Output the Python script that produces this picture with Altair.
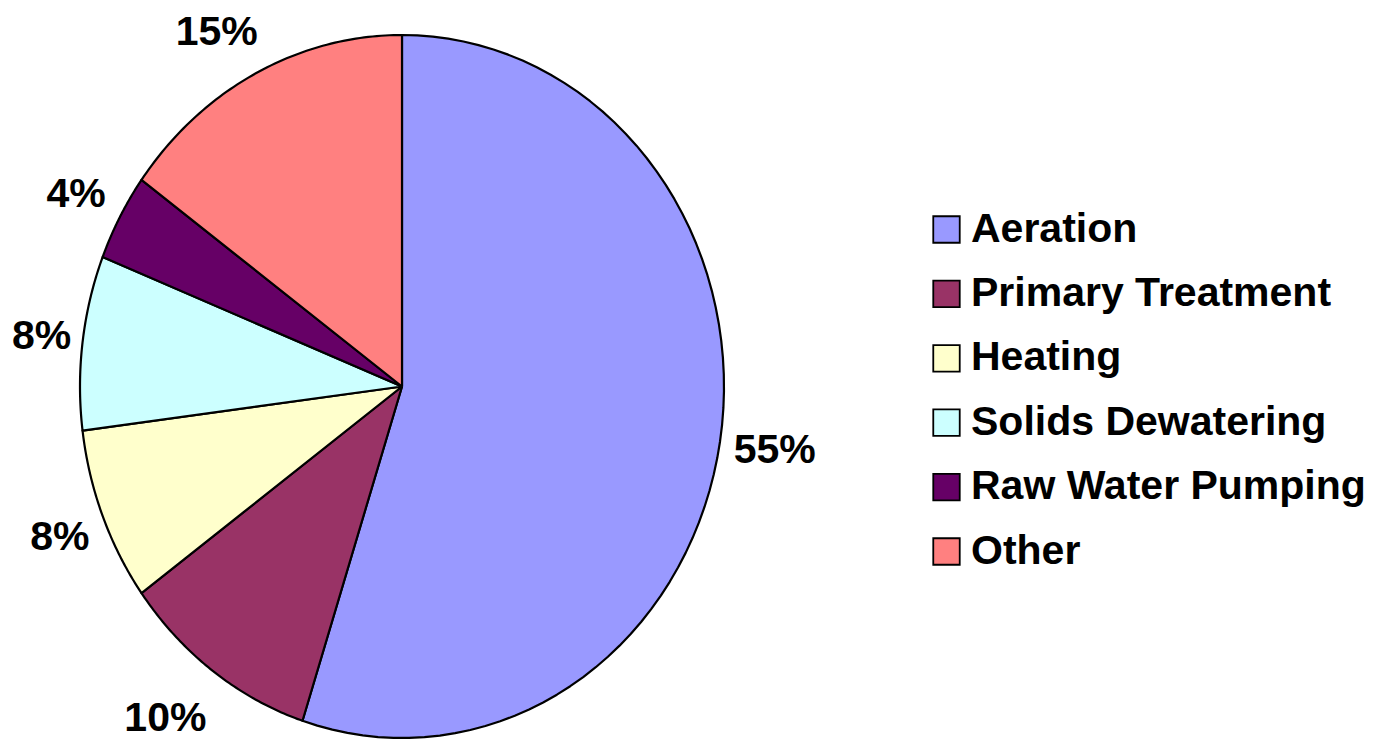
import altair as alt
import pandas as pd

categories = ["Aeration", "Primary Treatment", "Heating", "Solids Dewatering", "Raw Water Pumping", "Other"]
values = [55, 10, 8, 8, 4, 15]
labels = ["55%", "10%", "8%", "8%", "4%", "15%"]
colors = ["#9999FF", "#993366", "#FFFFCC", "#CCFFFF", "#660066", "#FF8080"]

df = pd.DataFrame({
    "category": categories,
    "value": values,
    "label": labels,
    "order": list(range(len(categories))),
})

FONT = "Liberation Sans"
N = 72  # arc resolution (rendering detail only)
RX, RY = 322.0, 351.5

xscale = alt.Scale(domain=[-1, 1], range=[80, 724], nice=False, zero=False)
yscale = alt.Scale(domain=[-1, 1], range=[738, 35], nice=False, zero=False)

color = alt.Color(
    "category:N",
    scale=alt.Scale(domain=categories, range=colors),
    sort=categories,
    legend=alt.Legend(
        title=None,
        orient="none",
        legendX=926,
        legendY=209,
        symbolType="square",
        symbolSize=700,
        symbolStrokeColor="black",
        symbolStrokeWidth=1.8,
        symbolOpacity=1,
        labelFont=FONT,
        labelFontSize=41,
        labelFontWeight="bold",
        labelColor="black",
        labelOffset=4,
        labelLimit=600,
        rowPadding=22.4,
        padding=0,
    ),
)

cum = alt.Chart(df).transform_window(
    end="sum(value)", sort=[alt.SortField("order")], frame=[None, 0]
).transform_calculate(
    start="datum.end - datum.value"
)

pie = cum.transform_calculate(
    steps=f"sequence(0, {N + 3})"
).transform_flatten(["steps"]).transform_calculate(
    ang=f"2*PI*(datum.start + datum.value*(datum.steps-1)/{N})/100",
    edge=f"datum.steps == 0 || datum.steps == {N + 2}",
).transform_calculate(
    px="datum.edge ? 0 : sin(datum.ang)",
    py="datum.edge ? 0 : cos(datum.ang)",
).mark_line(
    filled=True, stroke="black", strokeWidth=2.2, opacity=1, strokeJoin="round"
).encode(
    x=alt.X("px:Q", scale=xscale, axis=None),
    y=alt.Y("py:Q", scale=yscale, axis=None),
    color=color,
    order=alt.Order("steps:Q"),
)

text = cum.transform_calculate(
    mid="2*PI*(datum.start + datum.value/2)/100"
).transform_calculate(
    s="sin(datum.mid)",
    c="cos(datum.mid)",
).transform_calculate(
    ax="335 + 13.8*length(datum.label) + 40*datum.c*datum.c",
    ay="datum.c < 0 ? 411 : 397",
).transform_calculate(
    lx=f"datum.s*datum.ax/{RX}",
    ly=f"datum.c*datum.ay/{RY}",
).mark_text(
    font=FONT, fontSize=41, fontWeight="bold", color="black", baseline="middle"
).encode(
    x=alt.X("lx:Q", scale=xscale, axis=None),
    y=alt.Y("ly:Q", scale=yscale, axis=None),
    text="label:N",
)

chart = alt.layer(pie, text).properties(
    width=1373,
    height=739,
    padding=0,
    autosize=alt.AutoSizeParams(type="none"),
    background="white",
).configure_view(stroke=None)

chart.save("out.html", embed_options={"renderer": "svg", "actions": False})
